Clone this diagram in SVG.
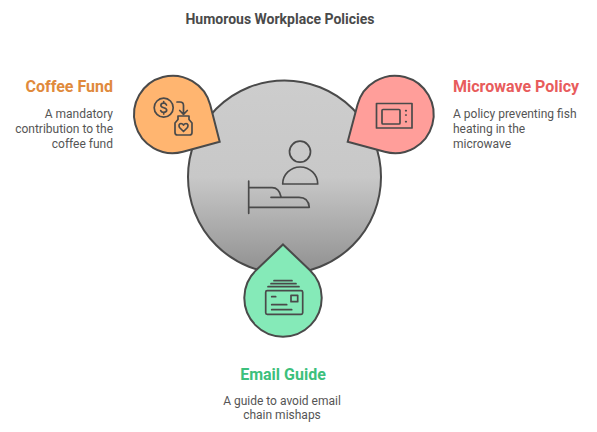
<svg xmlns="http://www.w3.org/2000/svg" width="597" height="432" viewBox="0 0 597 432">
<style>
text{font-family:Roboto,"Liberation Sans",sans-serif}
.title{font-size:14px;font-weight:700;fill:#4a4a4a}
.head{font-size:16px;font-weight:700}
.body{font-size:12px;fill:#555}
.shape{stroke:#4a4a4a;stroke-width:2}
.icon{fill:none;stroke:#4a4a4a;stroke-width:1.700;stroke-linecap:round;stroke-linejoin:round}
</style>
<defs>
<linearGradient id="g" x1="0" y1="0" x2="0" y2="1">
<stop offset="0" stop-color="#cdcdcd"/><stop offset="0.5" stop-color="#c8c8c8"/><stop offset="1" stop-color="#909090"/>
</linearGradient>
</defs>
<rect width="597" height="432" fill="#fff"/>
<text class="title" x="280" y="24" text-anchor="middle">Humorous Workplace Policies</text>
<g id="center">
<circle class="shape" cx="284.500" cy="177" r="96.500" fill="url(#g)"/>
<g class="icon">
<circle cx="300" cy="151.700" r="10.500"/>
<path d="M282.700 184a17.500 17 0 0 1 35 0z"/>
<path d="M248.700 181V213.300M248.700 187.700H272q7 0 9 9M271 197.300H299q9.500 0 10.300 10H248.700"/>
</g>
</g>
<g id="coffee">
<path class="shape" fill="#ffb570" d="M219.700 141.700L183 151.800A38.700 38.700 0 1 1 210.200 104.850Z"/>
<g class="icon">
<circle cx="163.700" cy="107.700" r="9.500"/>
<path d="M166.500 105q-.8-1.800-2.800-1.800q-2.800 0-2.800 2.200c0 3 5.800 1.600 5.800 4.700q0 2.300-3 2.300q-2.200 0-3-1.800M163.700 101.500V103.200M163.700 112.400V114"/>
<path d="M177 102h3q3.500 0 3.500 3.500v8.500M179.700 110.500l3.800 3.800 3.800-3.800"/>
<path d="M178 116h11v3.500l3 3.500v9.500q0 2.500-2.500 2.500h-12q-2.500 0-2.500-2.500V123l3-3.500z"/>
<path d="M183.500 131.500l-4-4q-1.500-3.500 1.500-4q1.500 0 2.500 1.500q1-1.500 2.500-1.500q3 .5 1.500 4z"/>
</g>
</g>
<g id="microwave">
<path class="shape" fill="#ff9e9a" d="M347.700 141.700L384.700 151.800A38.700 38.700 0 1 0 357.500 104.850Z"/>
<g class="icon">
<rect x="376.500" y="103.500" width="35.500" height="24.500"/>
<rect x="382" y="109.500" width="18" height="14.500" rx="1"/>
<path d="M405.700 110.700h.5M405.700 115h.5M405.700 121.700h.5"/>
</g>
</g>
<g id="email">
<path class="shape" fill="#85eab8" d="M283 244.500L309.700 270A38.700 38.700 0 1 1 256.300 270Z"/>
<g class="icon">
<rect x="265.700" y="290.700" width="37" height="23.600" rx="1.500"/>
<rect x="291" y="295.300" width="6.700" height="6.400"/>
<path d="M274 280.700h18M271 283.700h25M268 286.700h31M271.700 296.700h4M271.700 304.700h15M271.700 309.700h20"/>
</g>
</g>
<g id="labels">
<text class="head" x="113" y="92" text-anchor="end" fill="#e08a3c">Coffee Fund</text>
<text class="body" x="113" y="118" text-anchor="end">A mandatory</text>
<text class="body" x="113" y="133" text-anchor="end">contribution to the</text>
<text class="body" x="113" y="148" text-anchor="end">coffee fund</text>
<text class="head" x="453" y="92" fill="#e85c5c">Microwave Policy</text>
<text class="body" x="453" y="118">A policy preventing fish</text>
<text class="body" x="453" y="133">heating in the</text>
<text class="body" x="453" y="148">microwave</text>
<text class="head" x="283" y="380" text-anchor="middle" fill="#3cc07c">Email Guide</text>
<text class="body" x="282" y="405" text-anchor="middle">A guide to avoid email</text>
<text class="body" x="282" y="419" text-anchor="middle">chain mishaps</text>
</g>
</svg>
